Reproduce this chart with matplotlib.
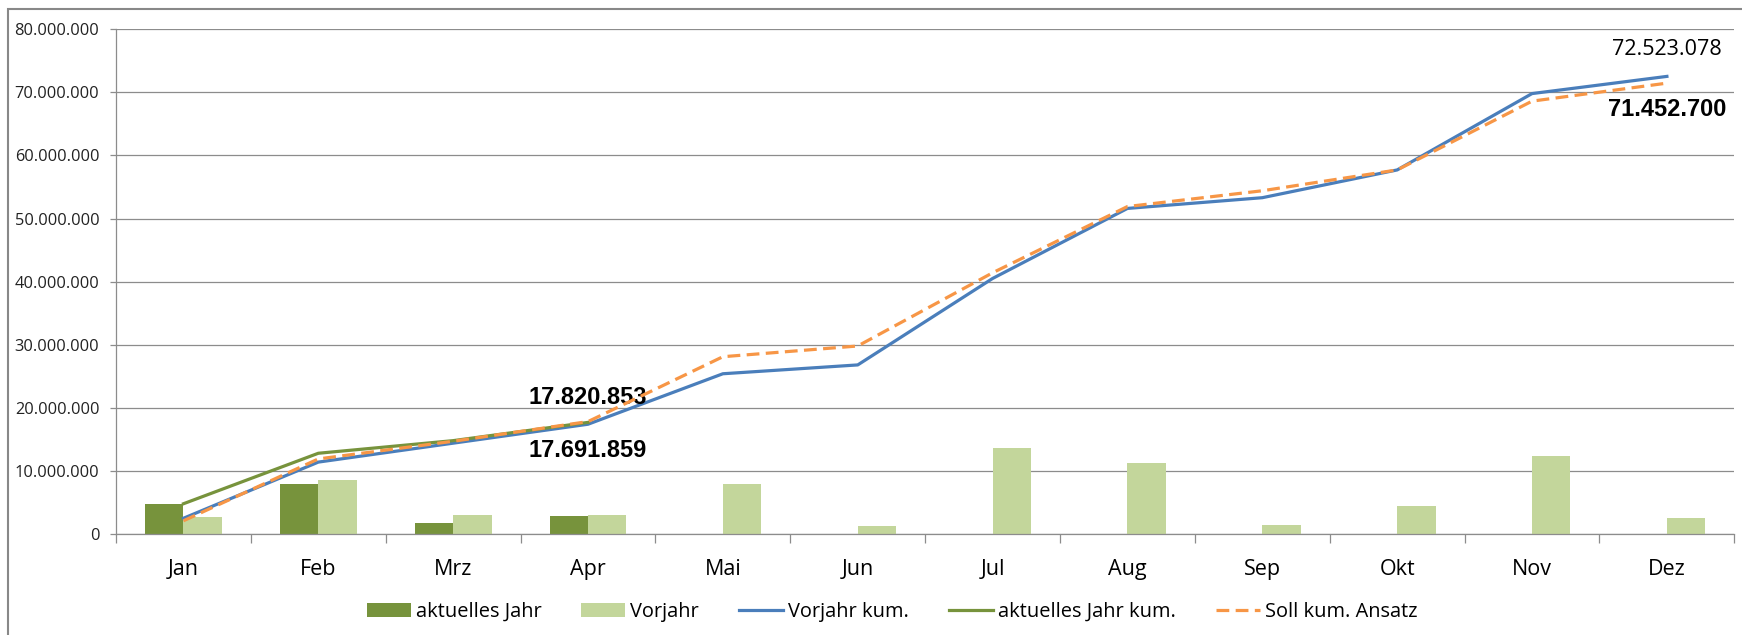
import numpy as np
import matplotlib
matplotlib.use('Agg')
import matplotlib.pyplot as plt
from matplotlib.patches import Rectangle
from matplotlib.ticker import FuncFormatter, MultipleLocator

plt.rcParams['font.family'] = ['Open Sans', 'DejaVu Sans']

# data
months = ['Jan', 'Feb', 'Mrz', 'Apr', 'Mai', 'Jun', 'Jul', 'Aug', 'Sep', 'Okt', 'Nov', 'Dez']
aktuell = [4.8e6, 8.0e6, 1.8e6, 2.8e6]
vorjahr = [2.7e6, 8.6e6, 3.0e6, 3.0e6, 7.9e6, 1.3e6, 13.7e6, 11.3e6, 1.5e6, 4.4e6, 12.3e6, 2.6e6]
vorjahr_kum = [2.5e6, 11.4e6, 14.4e6, 17.4e6, 25.4e6, 26.8e6, 40.5e6, 51.6e6, 53.3e6, 57.7e6, 69.8e6, 72.523078e6]
aktuell_kum = [4.8e6, 12.8e6, 14.8e6, 17.691859e6]
soll_kum = [2.1e6, 11.9e6, 14.7e6, 17.820853e6, 28.1e6, 29.8e6, 41.4e6, 51.9e6, 54.4e6, 57.7e6, 68.6e6, 71.4527e6]

c_dark = '#77933C'
c_light = '#C3D69B'
c_blue = '#4A7EBB'
c_orange = '#F79646'
c_grid = '#8c8c8c'

fig = plt.figure(figsize=(17.42, 6.35), dpi=100)
ax = fig.add_axes([0.0666, 0.159, 0.929, 0.795])

x = np.arange(len(months))
w = 0.285
b1 = ax.bar(x[:len(aktuell)] - w / 2, aktuell, w, color=c_dark, label='aktuelles Jahr', zorder=2)
b2 = ax.bar(x + w / 2, vorjahr, w, color=c_light, label='Vorjahr', zorder=2)
l1, = ax.plot(x, vorjahr_kum, color=c_blue, lw=2.3, label='Vorjahr kum.', zorder=3)
l2, = ax.plot(x[:len(aktuell_kum)], aktuell_kum, color=c_dark, lw=2.3, label='aktuelles Jahr kum.', zorder=4)
l3, = ax.plot(x, soll_kum, color=c_orange, lw=2.3, dashes=(4, 2), label='Soll kum. Ansatz', zorder=5)

# labels
ax.text(11, 76.8e6, '72.523.078', ha='center', va='center', fontsize=15.5)
ax.text(11, 67.3e6, '71.452.700', ha='center', va='center', fontsize=17,
        family='Liberation Sans', weight='bold')
ax.text(3, 21.7e6, '17.820.853', ha='center', va='center', fontsize=17,
        family='Liberation Sans', weight='bold')
ax.text(3, 13.3e6, '17.691.859', ha='center', va='center', fontsize=17,
        family='Liberation Sans', weight='bold')

ax.set_xlim(-0.5, 11.5)
ax.set_ylim(0, 80e6)
ax.yaxis.set_major_locator(MultipleLocator(10e6))
ax.yaxis.set_major_formatter(FuncFormatter(lambda v, p: f'{int(v):,}'.replace(',', '.')))
ax.grid(axis='y', color=c_grid, lw=0.9, zorder=0)
ax.set_axisbelow(True)

ax.set_xticks(x)
ax.set_xticklabels(months, fontsize=15.5)
ax.set_xticks(np.arange(-0.5, 12, 1), minor=True)
ax.tick_params(axis='x', which='major', length=0, pad=18)
ax.tick_params(axis='x', which='minor', length=6.5, color=c_grid, width=0.9)
ax.tick_params(axis='y', length=4, color=c_grid, width=0.9, pad=8, labelsize=11.8, labelcolor='#222222')

for s in ['top', 'right']:
    ax.spines[s].set_visible(False)
for s in ['left', 'bottom']:
    ax.spines[s].set_color(c_grid)
    ax.spines[s].set_linewidth(0.9)

fig.legend([b1, b2, l1, l2, l3],
           ['aktuelles Jahr', 'Vorjahr', 'Vorjahr kum.', 'aktuelles Jahr kum.', 'Soll kum. Ansatz'],
           loc='center', bbox_to_anchor=(0.512, 0.037), ncol=5, frameon=False,
           fontsize=14.4, handlelength=2.2, handletextpad=0.25, columnspacing=2.0)

# outer chart frame
fig.patches.append(Rectangle((8 / 1742, -0.1), 1.2, 1.1 - 9 / 635,
                             transform=fig.transFigure, fill=False,
                             edgecolor='#888888', lw=1.5))

fig.savefig('out.png', dpi=100)
